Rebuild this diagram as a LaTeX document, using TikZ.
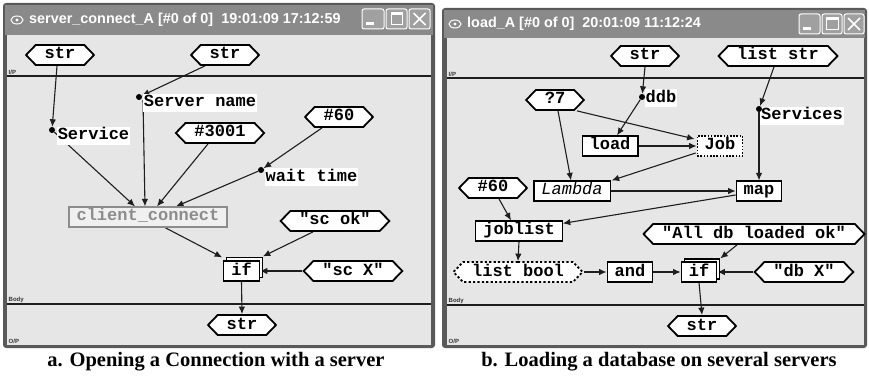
\documentclass[tikz,border=0pt]{standalone}
\usepackage{fontspec}
\setmainfont{Liberation Serif}
\newfontfamily\codefont[Ligatures=TeXOff]{Liberation Mono}
\newfontfamily\titlefont{Liberation Sans}
\usetikzlibrary{shapes.symbols,arrows.meta}
\definecolor{canvasgray}{RGB}{230,230,230}
\definecolor{framegray}{RGB}{90,90,90}
\definecolor{titlegray}{RGB}{138,138,138}
\definecolor{btngray}{RGB}{160,160,160}
\definecolor{linegray}{RGB}{30,30,30}
\definecolor{ghost}{RGB}{140,140,140}
\pgfdeclarelayer{bg}
\pgfdeclarelayer{edges}
\pgfsetlayers{bg,edges,main}
\tikzset{
  codetext/.style={font={\codefont\bfseries\fontsize{17}{18}\selectfont}, text height=11pt, text depth=3pt},
  hexnode/.style={codetext, shape=signal, signal to=east and west, signal pointer angle=92,
    draw=black, line width=1.8pt, fill=white, inner xsep=9pt, inner ysep=0pt, minimum height=20pt},
  boxnode/.style={codetext, rectangle, draw=black, line width=1.2pt, fill=white,
    inner xsep=7.5pt, inner ysep=0pt, minimum height=20pt},
  lblnode/.style={codetext, rectangle, fill=white, inner xsep=1pt, inner ysep=2pt},
  portdot/.style={circle, fill=black, inner sep=0pt, minimum size=6pt},
  conn/.style={draw=linegray, line width=1.1pt, -{Latex[length=7.5pt,width=6.5pt]}},
  sepline/.style={draw=linegray, line width=1.2pt},
  zonelbl/.style={font={\titlefont\bfseries\fontsize{6}{6}\selectfont}, text=black!80, inner sep=0.5pt, anchor=south west},
  titletext/.style={font={\titlefont\bfseries\fontsize{14.4}{15}\selectfont}, text=white, anchor=west, inner sep=0pt},
  btn/.style={draw=white, line width=1pt, fill=btngray, rounded corners=2pt},
  caption/.style={font={\bfseries\fontsize{20.5}{22}\selectfont}, inner sep=0pt}
}
\begin{document}
\begin{tikzpicture}[x=1pt,y=-1pt]
\useasboundingbox (0,0) rectangle (869,379);
\begin{pgfonlayer}{bg}
\fill[white] (0,0) rectangle (869,379);
% ---- left window
\fill[framegray,rounded corners=3pt] (3,3) rectangle (435,348);
\fill[titlegray] (5,5) rectangle (433,35);
\fill[canvasgray] (7,35) rectangle (431,345);
\draw[sepline] (7,76) -- (431,76) (7,304) -- (431,304);
\draw[white,line width=1pt] (17,20) ellipse (6pt and 4pt);
\fill[white] (17,20) circle (1.6pt);
\draw[btn] (362,9) rectangle (384,29);
\draw[btn] (386,9) rectangle (407,29);
\draw[btn] (409,9) rectangle (430,29);
\fill[white] (366,22) rectangle (374,25.5);
\draw[white,line width=1pt] (391,13) rectangle (402,25);
\fill[white] (391,13) rectangle (402,15.5);
\draw[white,line width=1.6pt] (413.5,13) -- (425.5,25) (413.5,25) -- (425.5,13);
% ---- right window
\fill[framegray,rounded corners=3pt] (442,8) rectangle (867,348);
\fill[titlegray] (444,10) rectangle (865,38);
\fill[canvasgray] (447,38) rectangle (864,345);
\draw[sepline] (447,78) -- (864,78) (447,305) -- (864,305);
\draw[white,line width=1pt] (455,24) ellipse (6pt and 4pt);
\fill[white] (455,24) circle (1.6pt);
\draw[btn] (799,14) rectangle (820,34);
\draw[btn] (822,14) rectangle (842,34);
\draw[btn] (844,14) rectangle (864,34);
\fill[white] (803,27) rectangle (811,30.5);
\draw[white,line width=1pt] (826,18) rectangle (838,30);
\fill[white] (826,18) rectangle (838,20.5);
\draw[white,line width=1.6pt] (848,18) -- (860,30) (848,30) -- (860,18);
\end{pgfonlayer}

% ---- window texts
\node[titletext] (titleA) at (29,20) {server\_connect\_A [\#0 of 0]\ \ 19:01:09 17:12:59};
\node[titletext] (titleB) at (467,24) {load\_A [\#0 of 0]\ \ 20:01:09 11:12:24};
\node[zonelbl] (ipA) at (8,75) {I/P};
\node[zonelbl] (bodyA) at (8,303) {Body};
\node[zonelbl] (opA) at (8,344) {O/P};
\node[zonelbl] (ipB) at (448,77) {I/P};
\node[zonelbl] (bodyB) at (448,304) {Body};
\node[zonelbl] (opB) at (448,344) {O/P};

% ---- captions
\node[caption] (capA) at (216,362) {a. Opening a Connection with a server};
\node[caption] (capB) at (659,362) {b. Loading a database on several servers};

% ---- left diagram nodes
\node[hexnode] (strA1) at (60,55) {str};
\node[hexnode] (strA2) at (225,55) {str};
\node[hexnode] (h60A) at (339,117) {\#60};
\node[hexnode] (h3001) at (220,133) {\#3001};
\node[lblnode] (lServer) at (200,103) {Server name};
\node[portdot] (dServer) at (139,97) {};
\node[lblnode] (lService) at (93.5,136) {Service};
\node[portdot] (dService) at (52,130) {};
\node[lblnode] (lWait) at (311.5,177.5) {wait time};
\node[portdot] (dWait) at (261,170) {};
\node[boxnode, draw=ghost, text=ghost, fill=canvasgray!60!white] (cc) at (148,217) {client\_connect};
\node[hexnode] (scok) at (335,221) {"sc ok"};
\node[boxnode] (ifAsh) at (244.5,267.5) {\phantom{if}};
\node[boxnode] (ifA) at (241.5,271) {if};
\node[hexnode] (scX) at (353,271) {"sc X"};
\node[hexnode] (strA3) at (242,325) {str};

% ---- right diagram nodes
\node[hexnode] (strB1) at (645,56) {str};
\node[hexnode] (lstr) at (778,56) {list str};
\node[hexnode] (q7) at (555,100) {?7};
\node[lblnode] (lDdb) at (661,98.5) {ddb};
\node[portdot] (dDdb) at (642,97) {};
\node[lblnode] (lServices) at (802,116) {Services};
\node[portdot] (dServices) at (759,109) {};
\node[boxnode] (load) at (610,146) {load};
\node[boxnode, fill=white, dash pattern=on 1.6pt off 1.6pt] (job) at (720,146) {Job};
\node[boxnode] (lambda) at (572,191) {{\mdseries\itshape Lambda}};
\node[boxnode] (map) at (759,191) {map};
\node[hexnode] (h60B) at (493,188) {\#60};
\node[boxnode] (joblist) at (519,231) {joblist};
\node[hexnode] (alldb) at (754,234) {"All db loaded ok"};
\node[hexnode, dash pattern=on 2.2pt off 2.2pt] (lbool) at (518,272) {list bool};
\node[boxnode] (andB) at (630,272) {and};
\node[boxnode] (ifBsh) at (702,269) {\phantom{if}};
\node[boxnode] (ifB) at (699,272) {if};
\node[hexnode] (dbX) at (804,272) {"db X"};
\node[hexnode] (strB2) at (702,326) {str};

% ---- connectors
\begin{pgfonlayer}{edges}
% left
\draw[conn] ([shift={(-3,0)}]strA1.south) -- (dService);
\draw[conn] ([shift={(-20,0)}]strA2.south) -- (dServer);
\draw[conn] ([shift={(-17,0)}]h60A.south) -- (dWait);
\draw[conn] (dService) -- ([shift={(-13,0)}]cc.north);
\draw[conn] ([shift={(4,0)}]dServer.south) -- ([shift={(-3,0)}]cc.north);
\draw[conn] ([shift={(-12,0)}]h3001.south) -- ([shift={(9,0)}]cc.north);
\draw[conn] (dWait) -- ([shift={(28,0)}]cc.north);
\draw[conn] ([shift={(17,0)}]cc.south) -- ([shift={(-1,-3)}]ifA.north west);
\draw[conn] ([shift={(-22,0)}]scok.south) -- ([shift={(3,-4)}]ifA.north east);
\draw[conn] (scX.west) -- (ifA.east);
\draw[conn] (ifA.south) -- (strA3.north);
% right
\draw[conn] (strB1.south) -- (dDdb);
\draw[conn] ([shift={(-4,0)}]lstr.south) -- (dServices);
\draw[conn] (dDdb) -- ([shift={(7,0)}]load.north);
\draw[conn] ([shift={(22,0)}]q7.south) -- ([shift={(-2,-7)}]job.west);
\draw[conn] ([shift={(3,0)}]q7.south) -- ([shift={(-1,0)}]lambda.north);
\draw[conn] (load.east) -- (job.west);
\draw[conn] ([shift={(-1,7)}]job.west) -- ([shift={(1,0)}]lambda.north east);
\draw[conn] (dServices) -- (map.north);
\draw[conn] (lambda.east) -- (map.west);
\draw[conn] ([shift={(0,4)}]map.west) -- ([shift={(0,3)}]joblist.north east);
\draw[conn] ([shift={(6,0)}]h60B.south) -- ([shift={(-8,0)}]joblist.north);
\draw[conn] (joblist.south) -- (lbool.north);
\draw[conn] (lbool.east) -- (andB.west);
\draw[conn] (andB.east) -- (ifB.west);
\draw[conn] ([shift={(-17,0)}]alldb.south) -- ([shift={(3,-3)}]ifB.north east);
\draw[conn] (dbX.west) -- (ifB.east);
\draw[conn] (ifB.south) -- (strB2.north);
\end{pgfonlayer}
\end{tikzpicture}
\end{document}
